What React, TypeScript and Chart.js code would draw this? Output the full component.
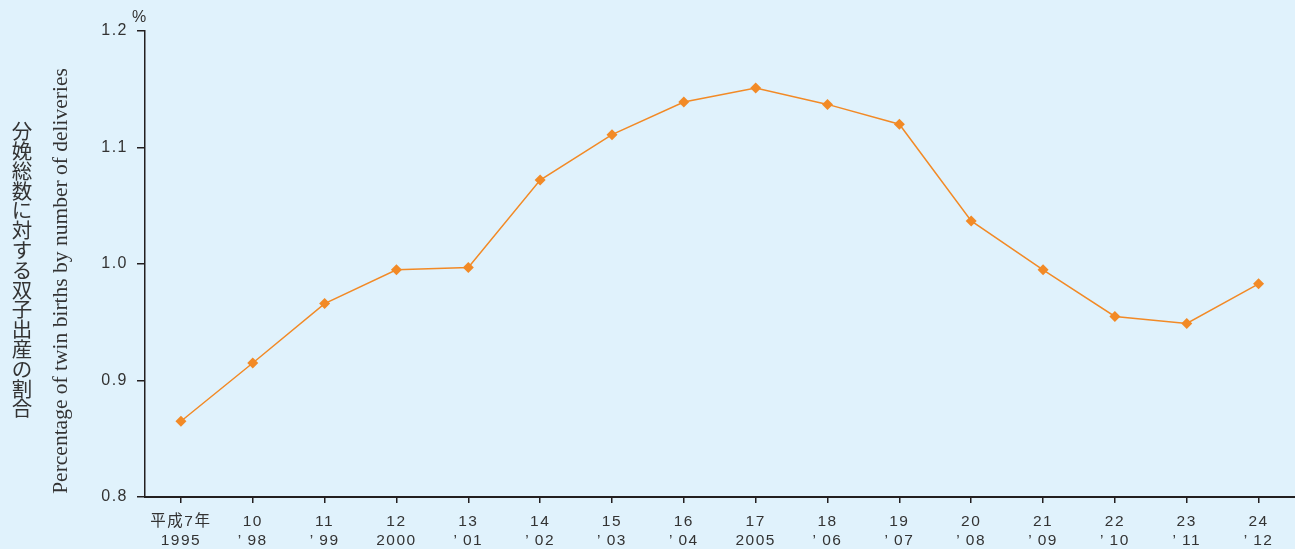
import React, { useEffect, useRef } from "react";
import { Chart, registerables } from "chart.js";

Chart.register(...registerables);

const eraLabels = ["平成7年", "10", "11", "12", "13", "14", "15", "16", "17", "18", "19", "20", "21", "22", "23", "24"];
const yearLabels = ["1995", "’\u200998", "’\u200999", "2000", "’\u200901", "’\u200902", "’\u200903", "’\u200904", "2005", "’\u200906", "’\u200907", "’\u200908", "’\u200909", "’\u200910", "’\u200911", "’\u200912"];
const twinRate = [0.865, 0.915, 0.966, 0.995, 0.997, 1.072, 1.111, 1.139, 1.151, 1.137, 1.120, 1.037, 0.995, 0.955, 0.949, 0.983];
const yTitleJa = "分娩総数に対する双子出産の割合";
const yTitleEn = "Percentage of twin births by number of deliveries";
const unitLabel = "%";

const BG = "#e0f2fc";
const ORANGE = "#f28a26";
const AXIS = "#231f20";
const TEXT = "#333333";

export default function App() {
  const ref = useRef<HTMLCanvasElement>(null);
  useEffect(() => {
    if (!ref.current) return;
    const titlePlugin = {
      id: "titles",
      beforeDraw(chart: any) {
        const ctx = chart.ctx;
        ctx.fillStyle = BG;
        ctx.fillRect(0, 0, chart.width, chart.height);
        ctx.letterSpacing = "1.5px";
      },
      afterDraw(chart: any) {
        const ctx = chart.ctx;
        const area = chart.chartArea;
        ctx.save();
        ctx.letterSpacing = "0px";
        // Japanese vertical title
        ctx.fillStyle = TEXT;
        ctx.font = '20.5px "Noto Sans CJK JP"';
        ctx.textAlign = "center";
        ctx.textBaseline = "middle";
        const chars = Array.from(yTitleJa);
        const step = 19.8;
        const cy = 270;
        const startY = cy - ((chars.length - 1) * step) / 2;
        chars.forEach((c, i) => ctx.fillText(c, 22, startY + i * step));
        // English rotated title
        ctx.save();
        ctx.translate(61, 281);
        ctx.rotate(-Math.PI / 2);
        ctx.font = '21.5px "Liberation Serif"';
        ctx.fillText(yTitleEn, 0, 0);
        ctx.restore();
        // unit
        ctx.font = '16px "Liberation Sans"';
        ctx.textAlign = "center";
        ctx.fillText(unitLabel, area.left - 6, 18);
        ctx.restore();
      },
    };
    const chart = new Chart(ref.current, {
      type: "line",
      data: {
        labels: eraLabels.map((e, i) => [e, yearLabels[i]]),
        datasets: [
          {
            data: twinRate,
            borderColor: ORANGE,
            backgroundColor: ORANGE,
            borderWidth: 1.5,
            pointStyle: "rectRot",
            pointRadius: 5.5,
            pointBorderWidth: 0,
            tension: 0,
          },
        ],
      },
      options: {
        animation: false,
        responsive: false,
        layout: { padding: { top: 31, left: 0, right: 0, bottom: 0 } },
        plugins: { legend: { display: false }, tooltip: { enabled: false } },
        scales: {
          x: {
            offset: true,
            grid: { drawOnChartArea: false, drawTicks: true, tickLength: 6, color: AXIS, lineWidth: 1.5, offset: false },
            border: { color: AXIS, width: 2 },
            ticks: {
              color: TEXT,
              font: { family: '"Liberation Sans", "Noto Sans CJK JP"', size: 15.5, lineHeight: 1.25 },
              padding: 9,
              maxRotation: 0,
              autoSkip: false,
            },
            afterFit: (s: any) => { s.height = 52; },
          },
          y: {
            min: 0.8,
            max: 1.2,
            ticks: {
              stepSize: 0.1,
              color: TEXT,
              font: { family: '"Liberation Sans"', size: 16 },
              padding: 9,
              callback: (v: any) => Number(v).toFixed(1),
            },
            grid: { drawOnChartArea: false, drawTicks: true, tickLength: 8, color: AXIS, lineWidth: 1.5 },
            border: { color: AXIS, width: 1.5 },
            afterFit: (s: any) => { s.width = 145; },
          },
        },
      },
      plugins: [titlePlugin],
    });
    return () => chart.destroy();
  }, []);
  return (
    <div style={{ position: "fixed", left: 0, top: 0, width: 1295, height: 549, overflow: "hidden", background: BG }}>
      <canvas ref={ref} width={1300} height={549} style={{ display: "block" }} />
    </div>
  );
}
